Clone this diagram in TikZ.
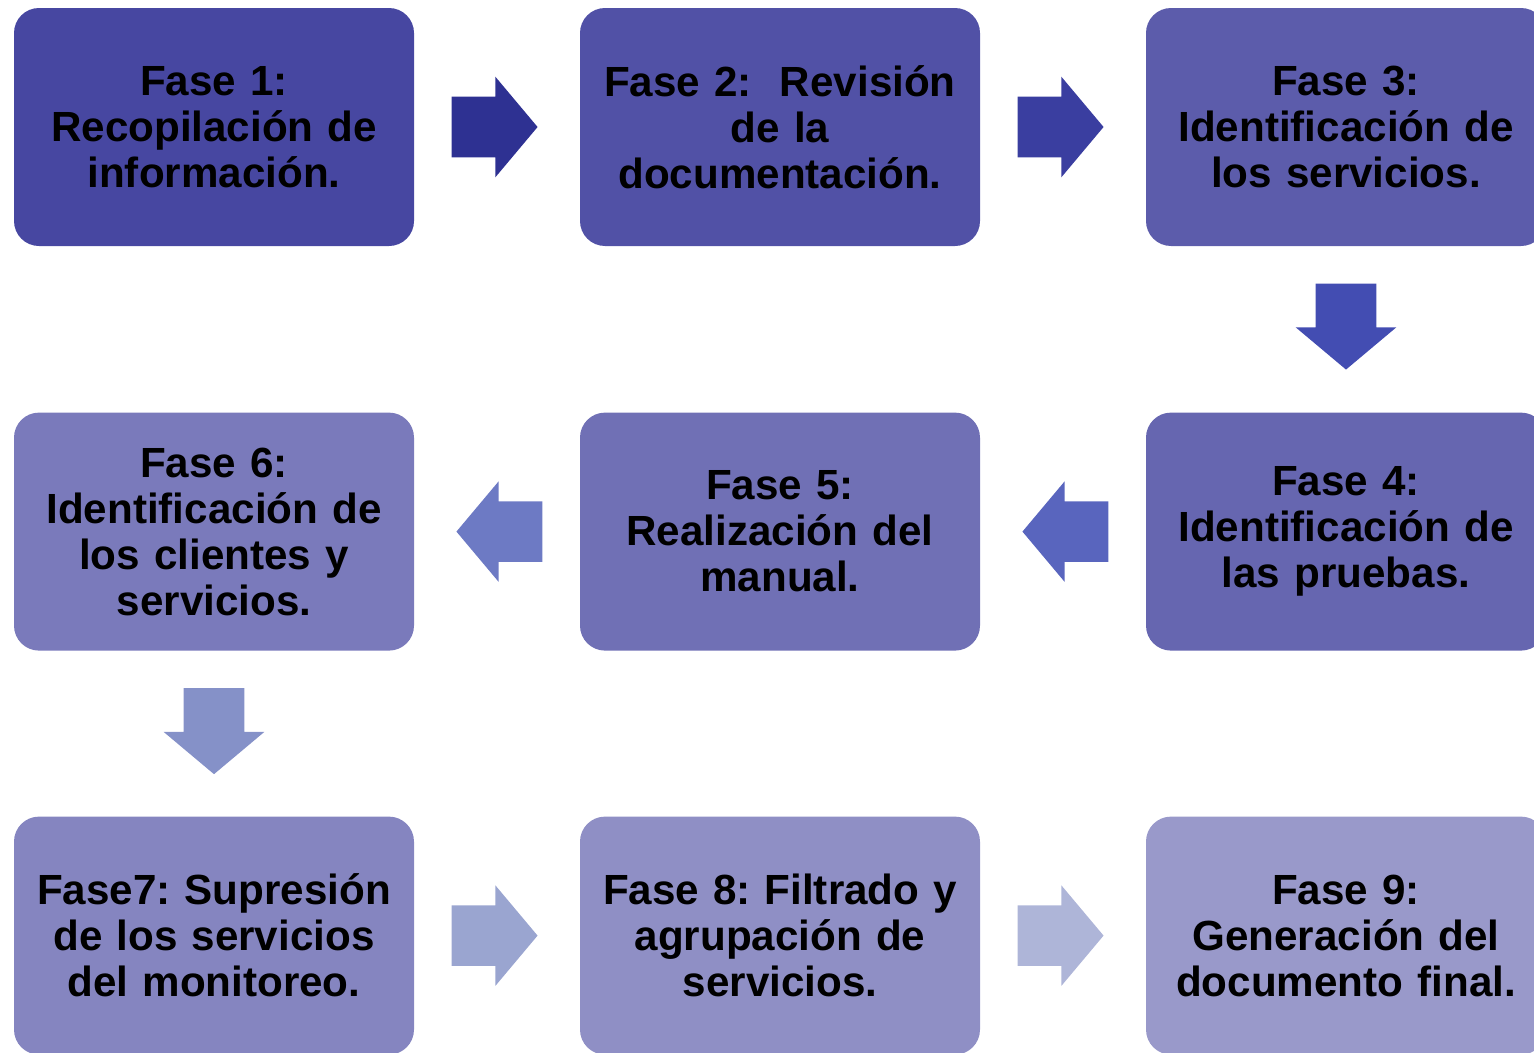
\documentclass[tikz,border=0pt]{standalone}
\usepackage{fontspec}
\setmainfont{Liberation Sans}
\frenchspacing
\usetikzlibrary{calc, shapes.arrows}

\definecolor{caja1}{RGB}{71,71,161}
\definecolor{caja2}{RGB}{81,81,166}
\definecolor{caja3}{RGB}{92,92,171}
\definecolor{caja4}{RGB}{102,102,176}
\definecolor{caja5}{RGB}{112,112,181}
\definecolor{caja6}{RGB}{122,122,187}
\definecolor{caja7}{RGB}{133,133,192}
\definecolor{caja8}{RGB}{143,143,197}
\definecolor{caja9}{RGB}{153,153,202}
\definecolor{flecha1}{RGB}{46,49,146}
\definecolor{flecha2}{RGB}{58,62,160}
\definecolor{flecha3}{RGB}{67,77,178}
\definecolor{flecha4}{RGB}{89,101,190}
\definecolor{flecha5}{RGB}{109,122,196}
\definecolor{flecha6}{RGB}{133,145,200}
\definecolor{flecha7}{RGB}{154,165,208}
\definecolor{flecha8}{RGB}{174,181,216}

\tikzset{
  fase/.style={rounded corners=0.625cm, minimum width=10cm, minimum height=5.95cm,
    text width=9.8cm, align=center, inner sep=0pt,
    font=\bfseries\fontsize{30}{32.7}\selectfont},
  bloque/.style={single arrow, draw=none, inner sep=0.75cm, minimum height=2.15cm,
    minimum width=2.5cm, single arrow head extend=0.5cm, single arrow tip angle=100,
    anchor=tail}
}

\begin{document}
\begin{tikzpicture}
  \useasboundingbox (0,0) rectangle (38.35,-26.325);
  \clip (0,0) rectangle (38.35,-26.325);

  % fases
  \node[fase, fill=caja1] (f1) at (5.35,-3.175)   {Fase 1:\\Recopilación de\\información.};
  \node[fase, fill=caja2] (f2) at (19.5,-3.175)   {Fase 2:~ Revisión\\de la\\documentación.};
  \node[fase, fill=caja3] (f3) at (33.65,-3.175)  {Fase 3:\\Identificación de\\los servicios.};
  \node[fase, fill=caja4] (f4) at (33.65,-13.29)  {Fase 4:\\Identificación de\\las pruebas.};
  \node[fase, fill=caja5] (f5) at (19.5,-13.29)   {Fase 5:\\Realización del\\manual.};
  \node[fase, fill=caja6] (f6) at (5.35,-13.29)   {Fase 6:\\Identificación de\\los clientes y\\servicios.};
  \node[fase, fill=caja7] (f7) at (5.35,-23.39)   {Fase7: Supresión\\de los servicios\\del monitoreo.};
  \node[fase, fill=caja8] (f8) at (19.5,-23.39)   {Fase 8: Filtrado y\\agrupación de\\servicios.};
  \node[fase, fill=caja9] (f9) at (33.65,-23.39)  {Fase 9:\\Generación del\\documento final.};

  % flechas entre fases
  \node[bloque, fill=flecha1] (a12) at ($(f1.east)+(0.925,0)$) {};
  \node[bloque, fill=flecha2] (a23) at ($(f2.east)+(0.925,0)$) {};
  \node[bloque, fill=flecha3, shape border rotate=270] (a34) at ($(f3.south)+(0,-0.925)$) {};
  \node[bloque, fill=flecha4, shape border rotate=180] (a45) at ($(f4.west)+(-0.925,0)$) {};
  \node[bloque, fill=flecha5, shape border rotate=180] (a56) at ($(f5.west)+(-0.925,0)$) {};
  \node[bloque, fill=flecha6, shape border rotate=270] (a67) at ($(f6.south)+(0,-0.925)$) {};
  \node[bloque, fill=flecha7] (a78) at ($(f7.east)+(0.925,0)$) {};
  \node[bloque, fill=flecha8] (a89) at ($(f8.east)+(0.925,0)$) {};
\end{tikzpicture}
\end{document}
